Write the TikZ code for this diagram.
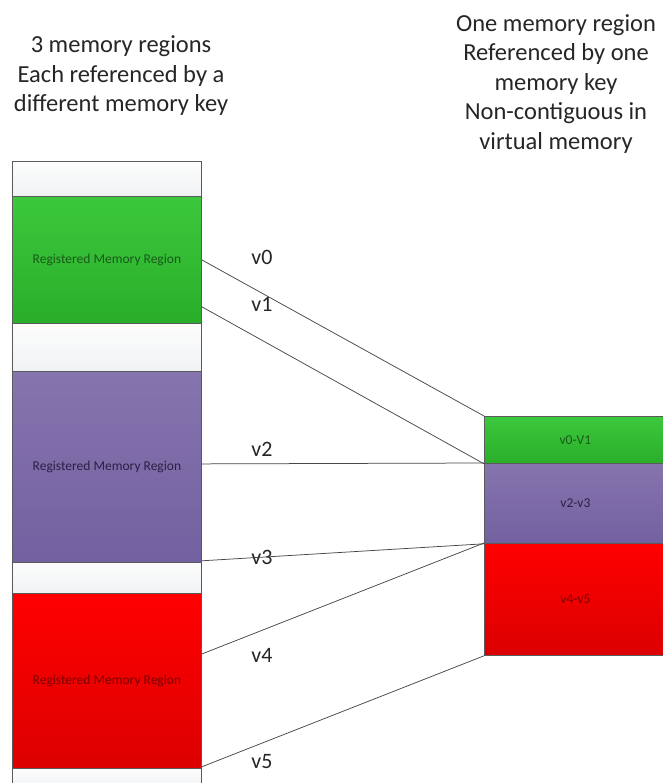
\documentclass[tikz,border=0pt]{standalone}
\usepackage{fontspec}
\setmainfont{Carlito}
\definecolor{gtop}{HTML}{3CC83C}
\definecolor{gbot}{HTML}{2AAE2A}
\definecolor{gtxt}{HTML}{1A5A1A}
\definecolor{ptop}{HTML}{8674AE}
\definecolor{pbot}{HTML}{7360A0}
\definecolor{ptxt}{HTML}{2A2045}
\definecolor{rtop}{HTML}{FF0000}
\definecolor{rbot}{HTML}{DC0000}
\definecolor{rtxt}{HTML}{7A0000}
\definecolor{wtop}{HTML}{FDFDFD}
\definecolor{wbot}{HTML}{F0F2F4}
\definecolor{edge}{HTML}{5A5A5A}
\definecolor{wire}{HTML}{484848}
\begin{document}
\begin{tikzpicture}[x=1pt,y=-1pt,
  reg/.style={draw=edge, line width=0.8pt, anchor=north west, inner sep=0pt,
    font=\fontsize{13.5}{16}\selectfont},
  gapbox/.style={reg, top color=wtop, bottom color=wbot},
  grnbox/.style={reg, top color=gtop, bottom color=gbot, text=gtxt},
  purbox/.style={reg, top color=ptop, bottom color=pbot, text=ptxt},
  redbox/.style={reg, top color=rtop, bottom color=rbot, text=rtxt},
  link/.style={draw=wire, line width=0.75pt},
  lbl/.style={font=\fontsize{22}{26}\selectfont, text=black!85, inner sep=0pt},
  head/.style={font=\fontsize{24.5}{29.5}\selectfont, text=black!85, align=center, inner sep=0pt}
]
\useasboundingbox (0,0) rectangle (662,783);
\fill[white] (0,0) rectangle (662,783);

% headers
\node[head] (h1) at (121,76) {3 memory regions\\Each referenced by a\\different memory key};
\node[head] (h2) at (556,84) {One memory region\\Referenced by one\\memory key\\Non-contiguous in\\virtual memory};

% left column
\node[gapbox, minimum width=189pt, minimum height=35pt] (w0) at (12,161) {};
\node[grnbox, minimum width=189pt, minimum height=127pt] (g) at (12,196) {Registered Memory Region};
\node[gapbox, minimum width=189pt, minimum height=48pt] (w1) at (12,323) {};
\node[purbox, minimum width=189pt, minimum height=191pt] (p) at (12,371) {Registered Memory Region};
\node[gapbox, minimum width=189pt, minimum height=31pt] (w2) at (12,562) {};
\node[redbox, minimum width=189pt, minimum height=175pt] (r) at (12,593) {Registered Memory Region};
\node[gapbox, minimum width=189pt, minimum height=20pt] (w3) at (12,768) {};

% right column
\node[grnbox, minimum width=182pt, minimum height=47pt] (rg) at (484,416) {v0-V1};
\node[purbox, minimum width=182pt, minimum height=80pt] (rp) at (484,463) {v2-v3};
\node[redbox, minimum width=182pt, minimum height=112pt] (rr) at (484,543) {v4-v5};

% connectors
\draw[link] (g.east) -- (rg.north west);
\draw[link] ([yshift=17pt]g.south east) -- (rg.south west);
\draw[link] ([yshift=3pt]p.east) -- (rp.north west);
\draw[link] ([yshift=2pt]p.south east) -- (rp.south west);
\draw[link] ([yshift=-61pt]r.north east) -- (rr.north west);
\draw[link] ([yshift=2pt]r.south east) -- (rr.south west);

% labels
\node[lbl] (l0) at (262,257) {v0};
\node[lbl] (l1) at (262,304) {v1};
\node[lbl] (l2) at (262,449) {v2};
\node[lbl] (l3) at (262,557) {v3};
\node[lbl] (l4) at (262,655) {v4};
\node[lbl] (l5) at (262,762) {v5};
\end{tikzpicture}
\end{document}
